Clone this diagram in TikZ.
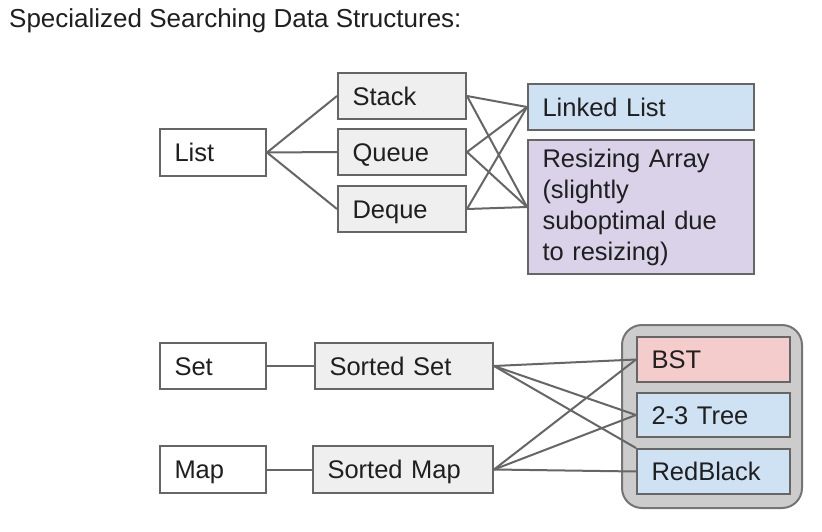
\documentclass[tikz,border=0pt]{standalone}
\usepackage{fontspec}
\setmainfont{Liberation Sans}
\definecolor{edgegray}{HTML}{666666}
\definecolor{txt}{HTML}{1F1F1F}
\definecolor{lightgray}{HTML}{EFEFEF}
\definecolor{lblue}{HTML}{CFE2F3}
\definecolor{lpurple}{HTML}{D9D2E9}
\definecolor{lpink}{HTML}{F4CCCC}
\definecolor{contgray}{HTML}{CCCCCC}
\begin{document}
\begin{tikzpicture}[x=1pt,y=-1pt,
  every node/.style={font=\fontsize{25.5}{31}\selectfont, text=txt},
  box/.style={draw=edgegray, line width=2pt, rectangle, inner xsep=14.5pt, inner ysep=0pt,
     align=left},
  single/.style={text height=18.4pt, text depth=0pt},
  conn/.style={draw=edgegray, line width=2pt}
]
\useasboundingbox (0,0) rectangle (822,532);
\fill[white] (0,0) rectangle (822,532);

\node[anchor=base west, inner sep=0pt, font=\fontsize{26}{31}\selectfont] (title) at (9,28) {Specialized Searching Data Structures:};

% container
\node[draw=edgegray!90, fill=contgray, line width=2pt, rounded corners=20pt, minimum width=180pt, minimum height=183pt, inner sep=0pt] (cont) at (712,416.5) {};

% top group
\node[box, single, fill=white, minimum width=106pt, minimum height=47pt, text width=77pt] (list) at (213,152.5) {List};
\node[box, single, fill=lightgray, minimum width=128pt, minimum height=46pt, text width=99pt] (stack) at (402,96) {Stack};
\node[box, single, fill=lightgray, minimum width=128pt, minimum height=46pt, text width=99pt] (queue) at (402,152) {Queue};
\node[box, single, fill=lightgray, minimum width=128pt, minimum height=46pt, text width=99pt] (deque) at (402,209) {Deque};
\node[box, single, fill=lblue, minimum width=226pt, minimum height=46pt, text width=197pt] (ll) at (641,107) {Linked List};
\node[box, fill=lpurple, minimum width=226pt, minimum height=134pt, text width=197pt] (ra) at (641,207) {Resizing Array\\(slightly\\suboptimal due\\to resizing)};

% bottom group
\node[box, single, fill=white, minimum width=106pt, minimum height=46pt, text width=77pt] (set) at (213,366) {Set};
\node[box, single, fill=lightgray, minimum width=178pt, minimum height=46pt, text width=149pt] (sset) at (404,366) {Sorted Set};
\node[box, single, fill=white, minimum width=106pt, minimum height=47pt, text width=77pt] (map) at (213,469.5) {Map};
\node[box, single, fill=lightgray, minimum width=180pt, minimum height=47pt, text width=151pt] (smap) at (403,469.5) {Sorted Map};
\node[box, single, fill=lpink, minimum width=153pt, minimum height=45pt, text width=124pt] (bst) at (713.5,359.5) {BST};
\node[box, single, fill=lblue, minimum width=153pt, minimum height=44pt, text width=124pt] (tree) at (713.5,415) {2-3 Tree};
\node[box, single, fill=lblue, minimum width=153pt, minimum height=45pt, text width=124pt] (rb) at (713.5,471.5) {RedBlack};

% connectors
\draw[conn] (list.east) -- (stack.west);
\draw[conn] (list.east) -- (queue.west);
\draw[conn] (list.east) -- (deque.west);
\foreach \s in {stack,queue,deque}{
  \draw[conn] (\s.east) -- (ll.west);
  \draw[conn] (\s.east) -- (ra.west);
}
\draw[conn] (set.east) -- (sset.west);
\draw[conn] (map.east) -- (smap.west);
\draw[conn] (sset.east) -- (bst.west);
\draw[conn] (sset.east) -- (tree.west);
\draw[conn] (sset.east) -- (rb.north west);
\draw[conn] (smap.east) -- (bst.west);
\draw[conn] (smap.east) -- (tree.west);
\draw[conn] (smap.east) -- (rb.west);
\end{tikzpicture}
\end{document}
